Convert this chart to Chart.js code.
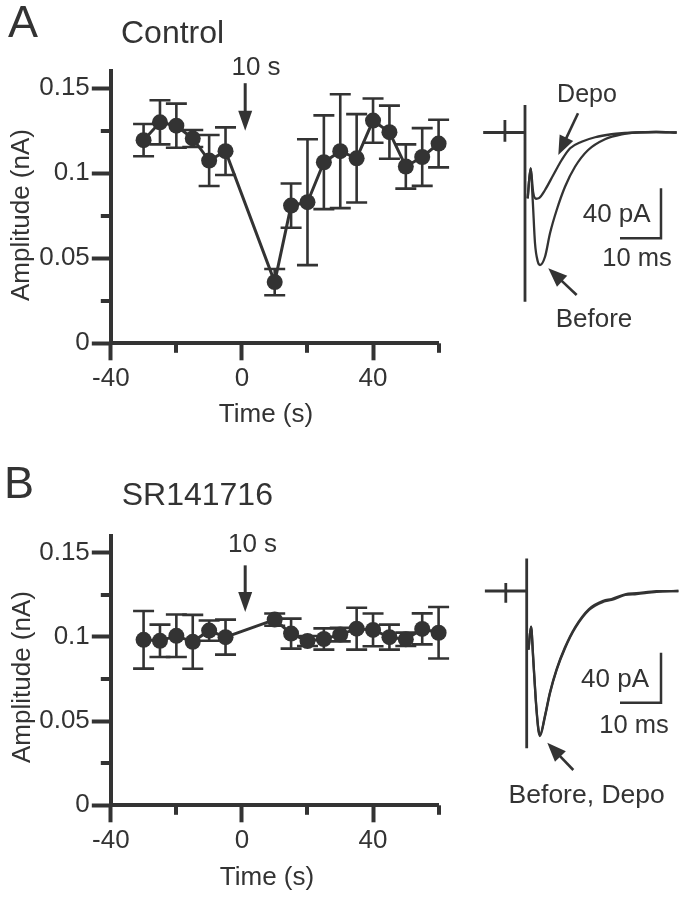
<!DOCTYPE html>
<html><head><meta charset="utf-8">
<script src="https://cdn.jsdelivr.net/npm/chart.js@4.4.1/dist/chart.umd.min.js"></script>
<style>
html,body{margin:0;padding:0;background:#fff}
body{width:682px;height:899px;overflow:hidden;position:relative;font-family:"Liberation Sans",Arial,Helvetica,sans-serif;color:#333}
canvas{position:absolute}
.t{position:absolute;white-space:nowrap;line-height:1;color:#333}
</style></head><body>
<canvas id="ampA" width="470" height="440" style="left:0;top:0"></canvas>
<canvas id="ampB" width="470" height="440" style="left:0;top:461.7px"></canvas>
<canvas id="trA" width="212" height="300" style="left:470px;top:60px"></canvas>
<canvas id="trB" width="212" height="300" style="left:470px;top:520px"></canvas>
<script>
// ---------- data ----------
const times = [-30,-25,-20,-15,-10,-5,10,15,20,25,30,35,40,45,50,55,60];
const ampControl = [0.1195,0.130,0.128,0.1205,0.1075,0.113,0.036,0.081,0.083,0.1065,0.113,0.1088,0.131,0.1242,0.104,0.1096,0.1175];
const semControl = [0.0095,0.013,0.013,0.005,0.015,0.014,0.0077,0.013,0.037,0.0276,0.0335,0.026,0.013,0.0156,0.013,0.017,0.014];
const ampSR = [0.0982,0.0976,0.1006,0.097,0.1037,0.0998,0.1102,0.1019,0.0975,0.0987,0.1013,0.1048,0.1041,0.0998,0.0985,0.1047,0.1024];
const semSR = [0.0171,0.0096,0.0126,0.016,0.006,0.0104,0.0036,0.0089,0.003,0.0063,0.004,0.0124,0.0097,0.0074,0.004,0.0092,0.0153];
const xTickLabels = ['-40','0','40'];
const yTickLabels = ['0','0.05','0.1','0.15'];
const depoTime = 1;          // s, time of the 10 s depolarisation arrow

// example traces (ms, pA)
const stimA_t = [-10.2,-4.9,-4.9,-4.9,-4.9,0,0,0];
const stimA_i = [0,0,10,-7.4,0,0,22,-135.4];
const beforeA_t = [0.65,1.37,1.88,2.44,3.1,3.66,4.88,6.1,7.73,9.76,12.2,15.4,19.5,23.6,27.2,32,37];
const beforeA_i = [-52.7,-28.7,-54,-88.6,-103,-106,-99.4,-80.6,-62,-43.4,-27.4,-14,-5.4,-1.4,0,0.4,0];
const depoA_t = [0.65,1.37,2.0,2.7,3.4,4.88,6.9,8.95,11.0,13.8,17.1,21.1,23.6,27.2,32,37];
const depoA_i = [-52.7,-28.7,-48,-53,-52.5,-46,-34,-22,-12.6,-7.4,-3.8,-1.4,-0.6,0,0.4,0];

const stimB_t = [-10.2,-5.1,-5.1,-5.1,-5.1,0,0,0];
const stimB_i = [0,0,6.4,-9.4,0,0,26,-125.8];
const beforeB_t = [0.44,1.05,1.6,2.2,2.84,3.24,4.46,5.68,7.3,9.34,11.8,15.2,18.7,20.7,24,26.8,31.7,37];
const beforeB_i = [-47,-28.6,-55,-87,-111,-116,-100.6,-81.8,-63.2,-45.8,-29.8,-15.2,-8.6,-7.2,-3.2,-2.4,-0.6,0];
const depoB_t = [0.44,1.05,1.6,2.2,2.84,3.24,4.46,5.68,7.3,9.34,11.8,15.2,18.7,20.7,24,26.8,31.7,37];
const depoB_i = [-47,-28.6,-54,-86,-110,-115,-99.6,-81,-62.5,-45,-29,-14.4,-7.8,-6.4,-2.6,-1.8,-0.2,0];

const scaleBarMs = 10, scaleBarPA = 40;

// ---------- styling ----------
const INK = '#333';
const FAMILY = '"Liberation Sans", Arial, Helvetica, sans-serif';
Chart.defaults.font.family = FAMILY;
Chart.defaults.color = INK;

const isMajorY = v => Math.abs(v/0.05 - Math.round(v/0.05)) < 1e-6;
const isMajorX = v => Math.abs(v/40 - Math.round(v/40)) < 1e-6;

function arrowDown(ctx, x, yTop, yTip, headLen, halfW){
  ctx.beginPath(); ctx.moveTo(x, yTop); ctx.lineTo(x, yTip-headLen+2); ctx.stroke();
  ctx.beginPath(); ctx.moveTo(x, yTip); ctx.lineTo(x-halfW, yTip-headLen); ctx.lineTo(x+halfW, yTip-headLen); ctx.closePath(); ctx.fill();
}
function arrowTo(ctx, x0, y0, x1, y1, headLen, halfW){
  const a = Math.atan2(y1-y0, x1-x0), c = Math.cos(a), s = Math.sin(a);
  const bx = x1 - c*headLen, by = y1 - s*headLen;
  ctx.beginPath(); ctx.moveTo(x0,y0); ctx.lineTo(bx+c*2, by+s*2); ctx.stroke();
  ctx.beginPath(); ctx.moveTo(x1,y1); ctx.lineTo(bx - s*halfW, by + c*halfW); ctx.lineTo(bx + s*halfW, by - c*halfW); ctx.closePath(); ctx.fill();
}

function ampChart(id, vals, sems, padTop, arrowTopV, arrowTipV){
  const plugin = {
    id: 'extras_'+id,
    beforeDatasetsDraw(chart){
      const {ctx, scales:{x,y}} = chart;
      ctx.save(); ctx.strokeStyle = INK; ctx.lineWidth = 2.6;
      times.forEach((t,i)=>{
        const px = x.getPixelForValue(t);
        const top = y.getPixelForValue(vals[i]+sems[i]);
        const bot = y.getPixelForValue(vals[i]-sems[i]);
        ctx.beginPath();
        ctx.moveTo(px, top); ctx.lineTo(px, bot);
        ctx.moveTo(px-10.5, top); ctx.lineTo(px+10.5, top);
        ctx.moveTo(px-10.5, bot); ctx.lineTo(px+10.5, bot);
        ctx.stroke();
      });
      ctx.restore();
    },
    afterDraw(chart){
      const {ctx, chartArea:ca, scales:{x,y}} = chart;
      ctx.save(); ctx.strokeStyle = INK; ctx.fillStyle = INK; ctx.lineWidth = 4;
      y.ticks.forEach(tk=>{ if(!isMajorY(tk.value)){ const py = Math.round(y.getPixelForValue(tk.value));
        ctx.beginPath(); ctx.moveTo(ca.left, py); ctx.lineTo(ca.left-10, py); ctx.stroke(); }});
      x.ticks.forEach(tk=>{ if(!isMajorX(tk.value)){ const px = Math.round(x.getPixelForValue(tk.value));
        ctx.beginPath(); ctx.moveTo(px, ca.bottom); ctx.lineTo(px, ca.bottom+9.5); ctx.stroke(); }});
      ctx.lineWidth = 3;
      arrowDown(ctx, x.getPixelForValue(depoTime), y.getPixelForValue(arrowTopV), y.getPixelForValue(arrowTipV), 20, 7);
      ctx.restore();
    }
  };
  return new Chart(document.getElementById(id), {
    type: 'line',
    data: { datasets: [{
      data: times.map((t,i)=>({x:t, y:vals[i]})),
      borderColor: INK, borderWidth: 3, tension: 0,
      pointRadius: 8, pointBackgroundColor: INK, pointBorderWidth: 0, pointHoverRadius: 8,
      clip: false
    }]},
    options: {
      responsive: false, animation: false, devicePixelRatio: 1, events: [],
      layout: { padding: { left: 0, top: padTop, right: 31.4, bottom: 0 } },
      plugins: { legend: {display:false}, tooltip: {enabled:false} },
      scales: {
        x: {
          type: 'linear', min: -40, max: 60,
          ticks: { stepSize: 20, autoSkip: false, maxRotation: 0, padding: 3, color: INK,
                   font: {size: 26, family: FAMILY},
                   callback: v => { const s = String(v); return xTickLabels.includes(s) ? s : ''; } },
          grid: { drawOnChartArea: false, tickLength: 17, tickWidth: 4,
                  tickColor: c => (c.tick && isMajorX(c.tick.value)) ? INK : 'rgba(0,0,0,0)' },
          border: { display: true, color: INK, width: 4 },
          afterFit: s => { s.height = 440 - 343.3; }
        },
        y: {
          type: 'linear', min: 0, max: 0.16,
          ticks: { stepSize: 0.025, includeBounds: false, autoSkip: false, padding: 2, color: INK,
                   font: {size: 26, family: FAMILY},
                   callback: v => { if(!isMajorY(v)) return ''; const k = Math.round(v/0.05); return yTickLabels[k] || ''; } },
          grid: { drawOnChartArea: false, tickLength: 19, tickWidth: 4,
                  tickColor: c => (c.tick && isMajorY(c.tick.value)) ? INK : 'rgba(0,0,0,0)' },
          border: { display: true, color: INK, width: 4 },
          afterFit: s => { s.width = 110.8; }
        }
      }
    },
    plugins: [plugin]
  });
}

function traceChart(id, series, rng, bar, arrows){
  const plugin = {
    id: 'trace_'+id,
    afterDraw(chart){
      const {ctx, scales:{x,y}} = chart;
      ctx.save(); ctx.strokeStyle = INK; ctx.fillStyle = INK; ctx.lineWidth = 2.5;
      // scale bar
      const cx = x.getPixelForValue(bar[0]), cy = y.getPixelForValue(bar[1]);
      ctx.beginPath();
      ctx.moveTo(x.getPixelForValue(bar[0]-scaleBarMs), cy); ctx.lineTo(cx, cy);
      ctx.lineTo(cx, y.getPixelForValue(bar[1]+scaleBarPA));
      ctx.stroke();
      ctx.lineWidth = 2.6;
      arrows.forEach(a => arrowTo(ctx, x.getPixelForValue(a[0]), y.getPixelForValue(a[1]), x.getPixelForValue(a[2]), y.getPixelForValue(a[3]), 19, 7.5));
      ctx.restore();
    }
  };
  return new Chart(document.getElementById(id), {
    type: 'line',
    data: { datasets: series.map(s => ({
      data: s.t.map((t,i)=>({x:t, y:s.i[i]})),
      borderColor: INK, borderWidth: s.w, pointRadius: 0, tension: 0,
      cubicInterpolationMode: s.smooth ? 'monotone' : 'default', clip: false
    }))},
    options: {
      responsive: false, animation: false, devicePixelRatio: 1, events: [],
      layout: { padding: 0 },
      plugins: { legend: {display:false}, tooltip: {enabled:false} },
      scales: {
        x: { type: 'linear', display: false, min: rng[0], max: rng[1] },
        y: { type: 'linear', display: false, min: rng[2], max: rng[3] }
      }
    },
    plugins: [plugin]
  });
}

ampChart('ampA', ampControl, semControl, 71.3, 0.153, 0.125);
ampChart('ampB', ampSR, semSR, 73.7, 0.1424, 0.1147);

traceChart('trA', [
  {t: stimA_t, i: stimA_i, w: 2.8, smooth: false},
  {t: beforeA_t, i: beforeA_i, w: 2.3, smooth: true},
  {t: depoA_t, i: depoA_i, w: 2.3, smooth: true}
], [-13.415, 38.293, -182, 58], [33.17, -84.64],
  [[12.93, 15.36, 8.12, -18], [12.6, -130, 5.68, -108.6]]);

traceChart('trB', [
  {t: stimB_t, i: stimB_i, w: 2.8, smooth: false},
  {t: beforeB_t, i: beforeB_i, w: 2.3, smooth: true},
  {t: depoB_t, i: depoB_i, w: 2.3, smooth: true}
], [-13.83, 37.88, -183.2, 56.8], [32.76, -89.36],
  [[11.37, -143.2, 5.02, -121.4]]);

// ---------- text ----------
function txt(s, x, base, size, align, extra){
  const d = document.createElement('div');
  d.className = 't'; d.textContent = s;
  d.style.fontSize = size + 'px';
  d.style.top = (base - 0.8465*size) + 'px';
  d.style.left = x + 'px';
  if (align === 'center') d.style.transform = 'translateX(-50%)';
  if (extra) Object.assign(d.style, extra);
  document.body.appendChild(d);
  return d;
}
function vtxt(s, cx, cy, size){
  const d = document.createElement('div');
  d.className = 't'; d.textContent = s;
  d.style.fontSize = size + 'px';
  d.style.left = cx + 'px'; d.style.top = cy + 'px';
  d.style.transform = 'translate(-50%,-50%) rotate(-90deg)';
  document.body.appendChild(d);
}
txt('A', 8, 37.3, 45);
txt('Control', 121, 43.3, 32);
txt('10 s', 256, 75, 26, 'center');
vtxt('Amplitude (nA)', 20, 215, 26);
txt('Time (s)', 266, 422.5, 26, 'center');
txt('Depo', 587, 101.7, 25, 'center');
txt('40 pA', 616.7, 222, 26, 'center');
txt('10 ms', 637, 266.7, 25.5, 'center');
txt('Before', 594, 326.7, 26, 'center');

txt('B', 4, 498.3, 45);
txt('SR141716', 121.7, 505, 32);
txt('10 s', 252.5, 551.7, 26, 'center');
vtxt('Amplitude (nA)', 21, 676.7, 26);
txt('Time (s)', 267, 885, 26, 'center');
txt('40 pA', 615, 687, 26, 'center');
txt('10 ms', 634, 733.3, 25.5, 'center');
txt('Before, Depo', 586.7, 803.3, 26.5, 'center');
</script>
</body></html>
